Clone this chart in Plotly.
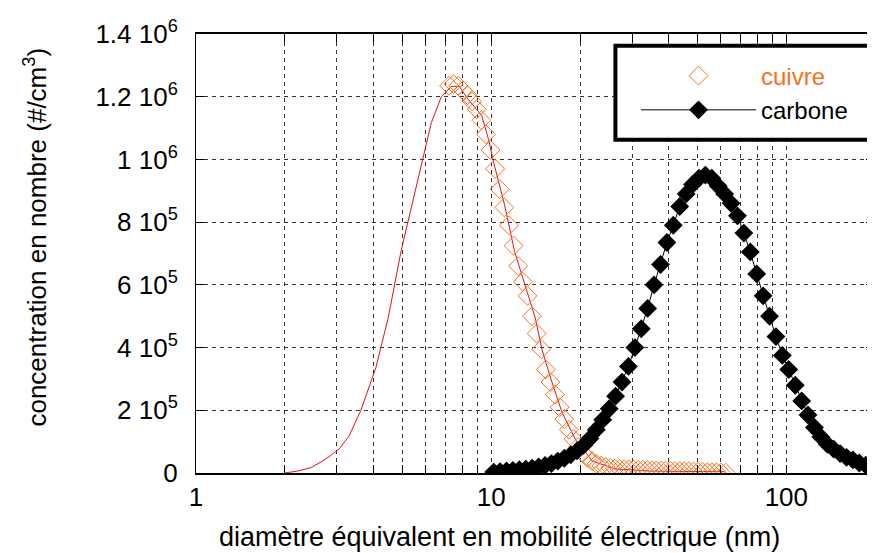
import plotly.graph_objects as go

# cuivre (copper) - measured points, 64 channels per decade
cuivre_d = [7.20, 7.46, 7.74, 8.02, 8.31, 8.62, 8.93, 9.26, 9.60, 9.95,
            10.31, 10.69, 11.08, 11.49, 11.91, 12.35, 12.80, 13.27, 13.75, 14.26,
            14.78, 15.32, 15.88, 16.46, 17.06, 17.69, 18.34, 19.01, 19.70, 20.43,
            21.17, 21.95, 22.75, 23.59, 24.45, 25.35, 26.27, 27.24, 28.23, 29.27,
            30.34, 31.45, 32.60, 33.80, 35.04, 36.32, 37.65, 39.03, 40.46, 41.94,
            43.48, 45.07, 46.72, 48.43, 50.21, 52.05, 53.95, 55.93, 57.98, 60.10, 62.3]
cuivre_n = [1.235e6, 1.24e6, 1.235e6, 1.22e6, 1.205e6, 1.185e6, 1.16e6, 1.125e6, 1.08e6, 1.03e6,
            9.7e5, 9.05e5, 8.47e5, 7.9e5, 7.25e5, 6.6e5, 6.1e5, 5.65e5, 5.0e5, 4.45e5,
            3.95e5, 3.3e5, 2.9e5, 2.5e5, 2.1e5, 1.72e5, 1.38e5, 1.08e5, 8.3e4, 6.4e4,
            4.9e4, 3.8e4, 2.9e4, 2.3e4, 1.9e4, 1.6e4, 1.4e4, 1.3e4, 1.2e4, 1.15e4,
            1.1e4, 1.05e4, 1.0e4, 9.5e3, 9e3, 8.5e3, 8e3, 7.5e3, 7e3, 6.5e3,
            6e3, 5.5e3, 5e3, 4.5e3, 4e3, 3.5e3, 3e3, 2.5e3, 2e3, 1.5e3, 1e3]

# cuivre - fitted curve (red line)
fit_d = [2.0, 2.2, 2.45, 2.65, 2.85, 3.05, 3.3, 3.62, 4.07, 4.48, 4.95, 5.49, 5.89, 6.27,
         6.78, 7.34, 7.8, 8.38, 9.29, 9.8, 10.2, 11.1, 12.0, 13.0, 14.1, 14.9, 16.1, 17.4,
         19.3, 22.0, 26.3, 35, 45, 62]
fit_n = [0, 6e3, 1.7e4, 3.5e4, 5.5e4, 7.6e4, 1.18e5, 2.0e5, 3.37e5, 4.95e5, 7.07e5, 8.86e5,
         1.0e6, 1.117e6, 1.2e6, 1.233e6, 1.233e6, 1.19e6, 1.14e6, 1.063e6, 9.9e5, 8.55e5,
         7.07e5, 6.0e5, 4.95e5, 3.9e5, 2.87e5, 1.92e5, 1.07e5, 3.8e4, 1.3e4, 6e3, 5e3, 4e3]

# carbone
carbone_d = [10.2, 10.72, 11.27, 11.85, 12.46, 13.10, 13.77, 14.48, 15.22, 16.00,
             16.82, 17.69, 18.59, 19.55, 20.55, 21.61, 22.71, 23.88, 25.11, 26.39,
             27.75, 29.17, 30.67, 32.24, 33.90, 35.64, 37.47, 39.39, 41.41, 43.53,
             45.77, 48.12, 50.59, 53.18, 55.91, 58.78, 61.80, 64.97, 68.30, 71.80,
             75.49, 79.36, 83.43, 87.71, 92.21, 96.94, 101.9, 107.2, 112.7, 118.4,
             124.5, 130.9, 137.6, 144.7, 152.1, 159.9, 168.1, 176.7, 185.8, 195.3, 205.3, 215.9]
carbone_n = [3e3, 4.5e3, 6.5e3, 8.5e3, 1.05e4, 1.25e4, 1.55e4, 1.9e4, 2.4e4, 3.0e4,
             3.8e4, 4.7e4, 5.8e4, 7.1e4, 8.8e4, 1.1e5, 1.38e5, 1.7e5, 2.05e5, 2.45e5,
             2.9e5, 3.4e5, 4.0e5, 4.6e5, 5.25e5, 6.0e5, 6.65e5, 7.35e5, 7.9e5, 8.5e5,
             8.9e5, 9.2e5, 9.4e5, 9.5e5, 9.4e5, 9.15e5, 8.9e5, 8.6e5, 8.2e5, 7.65e5,
             7.05e5, 6.35e5, 5.65e5, 5.0e5, 4.35e5, 3.75e5, 3.3e5, 2.8e5, 2.3e5, 1.85e5,
             1.45e5, 1.15e5, 9.2e4, 7.6e4, 6.2e4, 5.0e4, 4.2e4, 3.2e4, 2.5e4, 1.9e4, 1.4e4, 1.0e4]

x_tick_vals = [1, 2, 3, 4, 5, 6, 7, 8, 9, 10, 20, 30, 40, 50, 60, 70, 80, 90, 100, 200]
x_tick_text = ['1', '', '', '', '', '', '', '', '', '10', '', '', '', '', '', '', '', '', '100', '']
y_tick_vals = [0, 2e5, 4e5, 6e5, 8e5, 1e6, 1.2e6, 1.4e6]
y_tick_text = ['0', '2 10<sup>5</sup>', '4 10<sup>5</sup>', '6 10<sup>5</sup>', '8 10<sup>5</sup>',
               '1 10<sup>6</sup>', '1.2 10<sup>6</sup>', '1.4 10<sup>6</sup>']

ORANGE = '#f5711f'
FONT = 'Liberation Sans, Arial, sans-serif'

fig = go.Figure()
fig.add_trace(go.Scatter(x=fit_d, y=fit_n, mode='lines',
                         line=dict(color='#e3101b', width=1), showlegend=False))
fig.add_trace(go.Scatter(x=cuivre_d, y=cuivre_n, mode='markers',
                         name='<span style="color:%s">cuivre</span>' % ORANGE,
                         marker=dict(symbol='diamond-open', size=14.5,
                                     color=ORANGE, line=dict(color=ORANGE, width=1))))
fig.add_trace(go.Scatter(x=carbone_d, y=carbone_n, mode='lines+markers', name='carbone',
                         line=dict(color='black', width=1),
                         marker=dict(symbol='diamond', size=14.5, color='black')))

# legend frame
fig.add_shape(type='rect', xref='paper', yref='paper',
              x0=0.6186, x1=0.994, y0=0.759, y1=0.973,
              line=dict(color='black', width=4), fillcolor='white', layer='above')

# axis titles (placed off-centre like the original)
fig.add_annotation(text='diamètre équivalent en mobilité électrique (nm)',
                   xref='paper', yref='paper', x=0.447, y=-0.146,
                   xanchor='center', yanchor='middle', showarrow=False,
                   font=dict(size=27))
fig.add_annotation(text='concentration en nombre (#/cm<sup>3</sup>)',
                   xref='paper', yref='paper', x=-0.237, y=0.537, textangle=-90,
                   xanchor='center', yanchor='middle', showarrow=False,
                   font=dict(size=26))

grid = dict(showgrid=True, gridcolor='#333333', gridwidth=1, griddash='4px,4px')
fig.update_xaxes(type='log', range=[0, 2.297], tickvals=x_tick_vals, ticktext=x_tick_text,
                 ticks='inside', ticklen=8, tickcolor='black', mirror='ticks',
                 showline=True, linecolor='black', linewidth=1.5,
                 ticklabelstandoff=0, zeroline=False, **grid)
fig.update_yaxes(range=[0, 1.4e6], tickvals=y_tick_vals, ticktext=y_tick_text,
                 ticks='inside', ticklen=8, tickcolor='black', mirror='ticks',
                 showline=True, linecolor='black', linewidth=1,
                 ticklabelstandoff=12, zeroline=False, **grid)
# page body has an 8px margin, margins below compensate for it
fig.update_layout(width=875, height=553,
                  margin=dict(l=188, r=8, t=22, b=88),
                  paper_bgcolor='white', plot_bgcolor='white',
                  font=dict(family=FONT, size=26, color='black'),
                  legend=dict(x=0.649, y=0.9555, xanchor='left', yanchor='top',
                              bgcolor='rgba(0,0,0,0)', borderwidth=0,
                              font=dict(size=24), itemwidth=115, tracegroupgap=0))
fig.write_html("out.html")
